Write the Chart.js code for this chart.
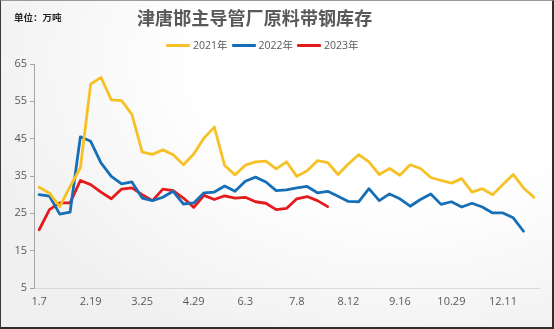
<!DOCTYPE html>
<html>
<head>
<meta charset="utf-8">
<script src="https://cdn.jsdelivr.net/npm/chart.js@4.4.0/dist/chart.umd.min.js"></script>
<style>
  html, body { margin: 0; padding: 0; }
  body { width: 554px; height: 329px; overflow: hidden; }
  #frame {
    position: absolute; left: 0; top: 0; width: 554px; height: 329px;
    box-sizing: border-box;
    border-left: 1px solid #3a3a3a; border-top: 1px solid #9a9a9a;
    border-right: 2px solid #2e2e2e; border-bottom: 2px solid #2e2e2e;
    background: radial-gradient(ellipse 80% 95% at 72% 18%, #ffffff 0%, #ffffff 45%, #f0f0f0 100%);
  }
  #chart { position: absolute; left: 0; top: 0; }
  #unit {
    position: absolute; left: 14px; top: 11px;
    font: 700 9.5px "Noto Sans CJK SC", sans-serif; color: #262626; line-height: 12px;
  }
  #title {
    position: absolute; left: 137px; top: 6px;
    font: 700 18px "Noto Sans CJK SC", sans-serif; color: #595959; line-height: 22px;
    letter-spacing: 0.1px;
  }
  #legend {
    position: absolute; left: 166px; top: 38px; display: flex; align-items: center;
    font: 10.5px "Open Sans", "Noto Sans CJK SC", sans-serif; color: #595959; line-height: 14px;
  }
  .item { display: flex; align-items: center; margin-right: 4px; }
  .swatch { width: 24px; height: 3px; margin-right: 3px; border-radius: 1px; }
</style>
</head>
<body>
<div id="frame"></div>
<canvas id="chart" width="554" height="329"></canvas>
<div id="unit">单位：万吨</div>
<div id="title">津唐邯主导管厂原料带钢库存</div>
<div id="legend"></div>
<script>
// Weekly dates (month.day)
const categories = [
  '1.7','1.14','1.21','2.4','2.11','2.19','2.25','3.4','3.11','3.18',
  '3.25','4.1','4.8','4.15','4.22','4.29','5.6','5.13','5.20','5.27',
  '6.3','6.10','6.17','6.24','7.1','7.8','7.15','7.22','7.29','8.5',
  '8.12','8.19','8.26','9.2','9.9','9.16','9.23','10.8','10.15','10.22',
  '10.29','11.5','11.12','11.19','12.3','12.11','12.18','12.25','12.31'
];

// Inventory, 10k tonnes
const stock2021 = [
  32.0, 30.4, 26.8, 32.2, 37.2, 59.6, 61.4, 55.4, 55.2, 51.5,
  41.4, 40.8, 42.0, 40.7, 38.0, 40.9, 45.2, 48.1, 37.8, 35.3,
  37.9, 38.8, 39.0, 36.9, 38.8, 34.9, 36.4, 39.1, 38.6, 35.4,
  38.2, 40.7, 38.8, 35.4, 37.0, 35.2, 38.0, 37.0, 34.6, 33.8,
  33.1, 34.3, 30.7, 31.6, 30.0, 32.7, 35.4, 31.8, 29.3
];
const stock2022 = [
  30.0, 29.6, 24.8, 25.3, 45.5, 44.3, 38.5, 34.9, 32.9, 33.4,
  29.1, 28.4, 29.3, 30.9, 27.5, 27.8, 30.5, 30.7, 32.3, 30.9,
  33.6, 34.7, 33.4, 31.1, 31.3, 31.8, 32.2, 30.5, 30.9, 29.6,
  28.2, 28.1, 31.6, 28.4, 30.2, 28.9, 26.9, 28.7, 30.2, 27.4,
  28.1, 26.7, 27.7, 26.7, 25.1, 25.1, 23.8, 20.2
];
const stock2023 = [
  20.6, 26.0, 27.8, 27.8, 33.8, 32.7, 30.7, 28.9, 31.5, 31.8,
  30.0, 28.4, 31.5, 31.1, 29.1, 26.6, 29.8, 28.7, 29.7, 29.1,
  29.3, 28.1, 27.7, 26.0, 26.3, 28.9, 29.5, 28.4, 26.8
];

const seriesNames = ['2021年', '2022年', '2023年'];
const yTicks = [5, 15, 25, 35, 45, 55, 65];

const colors = ['#F7C126', '#166FB6', '#E41A1C'];
const seriesData = [stock2021, stock2022, stock2023];

const datasets = seriesNames.map((name, i) => ({
  label: name,
  data: seriesData[i],
  borderColor: colors[i],
  backgroundColor: colors[i],
  borderWidth: 2.8,
  pointRadius: 0,
  pointHoverRadius: 0,
  tension: 0,
  fill: false,
  borderCapStyle: 'round',
  borderJoinStyle: 'round'
}));

// Legend row
const legendEl = document.getElementById('legend');
datasets.forEach(ds => {
  const item = document.createElement('div');
  item.className = 'item';
  const sw = document.createElement('div');
  sw.className = 'swatch';
  sw.style.background = ds.borderColor;
  const tx = document.createElement('span');
  tx.textContent = ds.label;
  item.appendChild(sw);
  item.appendChild(tx);
  legendEl.appendChild(item);
});

const tickFont = { family: '"Open Sans", "Noto Sans CJK SC", sans-serif', size: 11 };

new Chart(document.getElementById('chart'), {
  type: 'line',
  data: { labels: categories, datasets },
  options: {
    responsive: false,
    animation: false,
    layout: { padding: { top: 64, right: 15, left: 0, bottom: 0 } },
    plugins: { legend: { display: false }, title: { display: false }, tooltip: { enabled: false } },
    scales: {
      x: {
        type: 'category',
        offset: true,
        grid: { display: false, drawTicks: false },
        border: { display: true, color: '#d9d9d9', width: 1 },
        ticks: {
          color: '#595959', font: tickFont, autoSkip: false, maxRotation: 0, padding: 7,
          callback: (v, i) => (i % 5 === 0 ? categories[i] : '')
        },
        afterFit: s => { s.height = 41; }
      },
      y: {
        min: yTicks[0], max: yTicks[yTicks.length - 1],
        afterBuildTicks: s => { s.ticks = yTicks.map(v => ({ value: v })); },
        grid: { display: true, drawOnChartArea: false, drawTicks: true, tickLength: 4, color: '#a6a6a6' },
        border: { display: true, color: '#a6a6a6', width: 1 },
        ticks: { color: '#595959', font: tickFont, padding: 3 },
        afterFit: s => { s.width = 34; }
      }
    }
  }
});
</script>
</body>
</html>
